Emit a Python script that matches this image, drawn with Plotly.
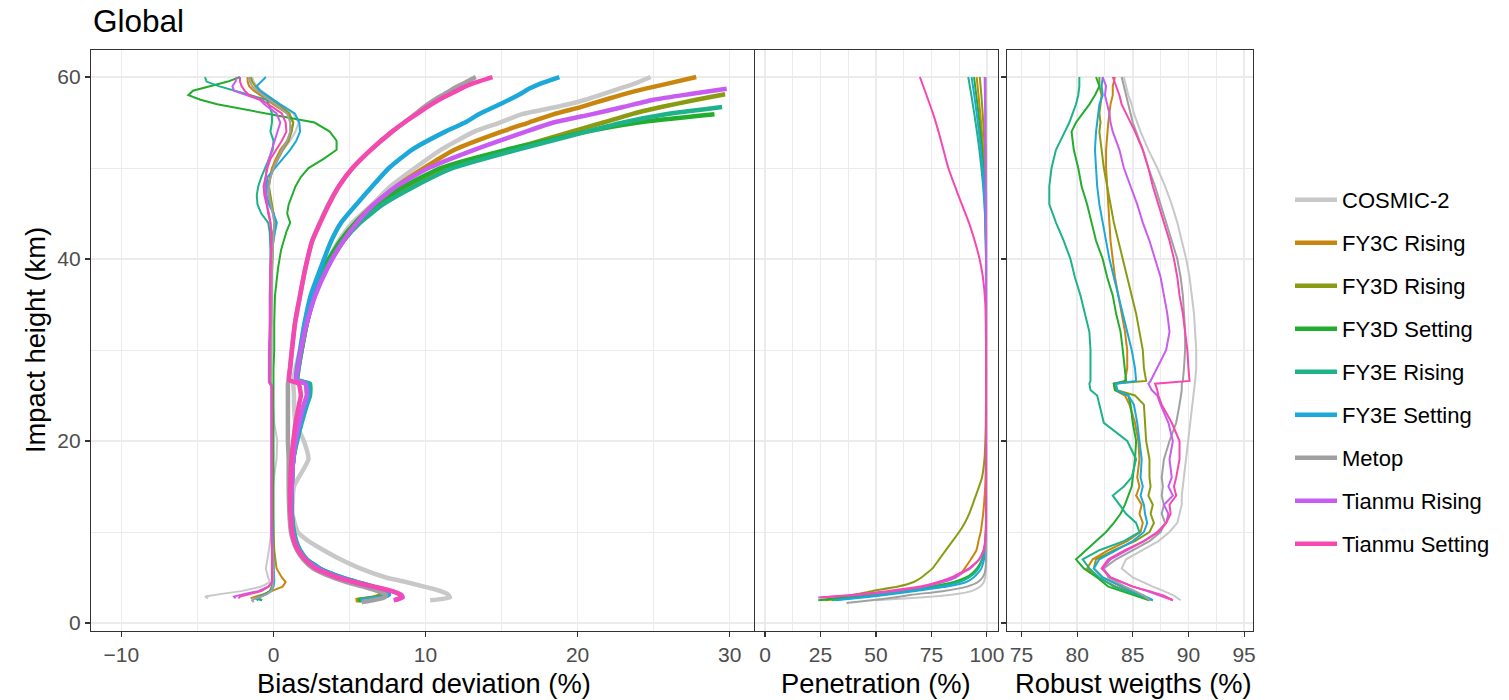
import plotly.graph_objects as go

# ---------------- data ----------------
SERIES = ["COSMIC-2", "FY3C Rising", "FY3D Rising", "FY3D Setting", "FY3E Rising",
          "FY3E Setting", "Metop", "Tianmu Rising", "Tianmu Setting"]
COLORS = ["#C8C8C8", "#C8860F", "#8A9B12", "#22AD2E", "#1DB28A",
          "#1DA8DA", "#A0A0A0", "#C95CF0", "#F548B0"]

# Panel 1 : bias (%) versus impact height (km)
H_BIAS = [2.3, 2.5, 2.7, 2.9, 3.2, 3.5, 4.0, 4.5, 5, 6,
          7, 8, 10, 12, 15, 18, 20, 22, 24, 26,
          26.5, 28, 30, 33, 36, 39, 41, 43, 44, 45,
          46, 47, 48, 49, 50, 51, 52, 53, 54, 55,
          56, 57, 57.5, 58, 58.5, 59, 59.5, 60]
BIAS_COSMIC2 = [None, None, -4.3, -4.5, -3.4, -2.1, -0.8, -0.25, -0.35, -0.5,
                -0.4, -0.3, -0.15, -0.1, -0.05, 0.2, 0.25, 0.05, -0.05, -0.1,
                -0.15, -0.15, -0.1, -0.1, -0.1, -0.1, -0.05, 0.0, 0.05, 0.0,
                -0.15, -0.25, -0.3, -0.2, 0.0, 0.3, 0.65, 1.1, 1.45, 1.65,
                1.3, 0.4, 0.0, -0.4, -0.8, -1.1, -1.3, -1.4]
BIAS_FY3C_R = [None, None, -1.5, -1.2, -0.6, -0.1, 0.6, 0.8, 0.55, 0.2,
               0.1, 0.05, 0.0, -0.05, -0.1, -0.1, -0.1, -0.1, -0.1, -0.1,
               -0.25, -0.2, -0.2, -0.15, -0.15, -0.1, -0.1, 0.0, 0.1, 0.0,
               -0.2, -0.3, -0.35, -0.25, -0.1, 0.15, 0.45, 0.9, 1.15, 1.3,
               0.9, 0.0, -0.45, -0.9, -1.3, -1.6, -1.7, -1.7]
BIAS_FY3D_R = [None, -1.0, -1.1, -0.9, -0.5, -0.2, -0.1, 0.0, 0.0, -0.05,
               -0.05, -0.05, -0.1, -0.1, -0.1, -0.1, -0.1, -0.1, -0.1, -0.1,
               -0.2, -0.2, -0.2, -0.2, -0.15, -0.1, -0.05, 0.0, 0.1, 0.0,
               -0.15, -0.25, -0.3, -0.2, 0.0, 0.3, 0.6, 1.0, 1.2, 1.3,
               1.05, 0.3, -0.1, -0.5, -0.9, -1.2, -1.4, -1.5]
BIAS_FY3D_S = [None, -0.75, -1.0, -0.9, -0.5, -0.25, -0.1, -0.05, 0.0, 0.0,
               0.0, 0.0, 0.0, 0.0, 0.0, 0.0, 0.0, 0.0, 0.0, 0.0,
               0.0, 0.0, 0.05, 0.05, 0.1, 0.3, 0.5, 0.85, 1.1, 0.9,
               1.0, 1.2, 1.45, 1.8, 2.3, 3.3, 4.15, 4.15, 3.7, 2.7,
               -0.4, -3.7, -4.8, -5.6, -5.3, -4.2, -3.0, -2.2]
BIAS_FY3E_R = [None, -0.8, -1.1, -0.85, -0.45, -0.2, -0.05, 0.0, 0.0, -0.05,
               -0.05, -0.05, -0.1, -0.1, -0.1, -0.1, -0.1, -0.1, -0.1, -0.1,
               -0.25, -0.25, -0.2, -0.2, -0.2, -0.2, -0.2, -0.25, -0.35, -0.8,
               -1.05, -1.1, -1.0, -0.8, -0.55, -0.3, -0.05, 0.0, -0.2, -0.1,
               -0.1, -0.3, -0.45, -1.5, -2.6, -3.6, -4.4, -4.5]
BIAS_FY3E_S = [None, -1.0, -1.2, -0.9, -0.45, -0.15, 0.0, 0.05, 0.05, 0.0,
               0.0, -0.05, -0.05, -0.1, -0.1, -0.1, -0.1, -0.1, -0.1, -0.1,
               -0.3, -0.3, -0.25, -0.2, -0.2, -0.15, -0.1, 0.1, 0.22, 0.0,
               -0.3, -0.45, -0.45, -0.4, 0.1, 0.65, 1.1, 1.5, 1.75, 1.7,
               1.4, 0.45, 0.0, -0.5, -0.9, -1.1, -0.8, -0.5]
BIAS_METOP = [-1.3, -1.4, -1.2, -0.8, -0.4, -0.15, -0.05, 0.0, 0.0, -0.05,
              -0.05, -0.05, -0.1, -0.1, -0.1, -0.1, -0.1, -0.1, -0.1, -0.1,
              -0.2, -0.15, -0.15, -0.15, -0.1, -0.1, -0.05, 0.0, 0.05, -0.05,
              -0.2, -0.3, -0.3, -0.2, 0.0, 0.25, 0.55, 0.9, 1.1, 1.1,
              0.9, 0.1, -0.3, -0.7, -1.1, -1.4, -1.55, -1.6]
BIAS_TIANMU_R = [None, None, -2.5, -2.6, -1.9, -1.0, -0.35, -0.1, -0.1, -0.1,
                 -0.1, -0.1, -0.15, -0.15, -0.15, -0.15, -0.15, -0.15, -0.15, -0.15,
                 -0.3, -0.3, -0.3, -0.25, -0.25, -0.2, -0.15, -0.15, -0.2, -0.35,
                 -0.45, -0.5, -0.55, -0.5, -0.45, -0.3, -0.1, 0.1, 0.25, 0.45,
                 0.2, -0.6, -0.9, -1.8, -2.6, -2.7, -2.5, -2.4]
BIAS_TIANMU_S = [None, None, -2.3, -2.2, -1.5, -0.8, -0.3, -0.1, -0.1, -0.1,
                 -0.1, -0.1, -0.1, -0.1, -0.1, -0.1, -0.1, -0.1, -0.1, -0.1,
                 -0.25, -0.25, -0.25, -0.2, -0.2, -0.2, -0.15, -0.15, -0.2, -0.3,
                 -0.45, -0.6, -0.65, -0.55, -0.4, -0.2, 0.2, 0.55, 0.85, 0.8,
                 0.55, -0.3, -0.8, -1.6, -1.9, -2.1, -2.2, -2.2]

# Panel 1 : standard deviation (%) versus impact height (km)
H_STD = [2.3, 2.5, 2.8, 3.1, 3.5, 4.0, 4.5, 5, 6, 7,
         8, 9, 10, 12, 15, 18, 20, 22, 24, 25,
         26.3, 26.7, 28, 30, 33, 36, 39, 42, 44, 46,
         48, 50, 52, 54, 55, 55.9, 56.7, 57.5, 58.1, 58.7,
         59.3, 60]
STD_COSMIC2 = [None, 10.3, 11.6, 11.5, 11.0, 9.9, 8.7, 7.4, 5.7, 4.4,
               3.3, 2.3, 1.6, 1.25, 1.35, 2.3, 2.0, 1.45, 1.35, 1.35,
               1.3, 1.3, 1.45, 1.75, 2.05, 2.55, 3.3, 4.3, 5.2, 6.5,
               7.7, 9.3, 11.0, 13.2, 14.9, 16.3, 18.6, 20.5, 21.6, 22.7,
               23.8, 24.8]
STD_FY3C_R = [None, 5.4, 6.6, 7.1, 6.9, 6.1, 5.1, 4.2, 2.9, 2.1,
              1.65, 1.4, 1.25, 1.15, 1.2, 1.3, 1.45, 1.7, 2.0, 2.2,
              2.1, 1.5, 1.6, 1.85, 2.2, 2.7, 3.5, 4.5, 5.4, 6.6,
              8.1, 9.9, 11.9, 15.0, 16.8, 18.4, 20.2, 21.8, 23.0, 24.4,
              26.0, 27.8]
STD_FY3D_R = [None, 5.5, 6.8, 7.3, 7.1, 6.3, 5.3, 4.4, 3.0, 2.15,
              1.7, 1.45, 1.3, 1.2, 1.2, 1.3, 1.5, 1.75, 2.05, 2.3,
              2.2, 1.55, 1.65, 1.85, 2.2, 2.7, 3.45, 4.6, 5.6, 7.0,
              9.0, 11.5, 15.5, 19.6, 21.7, 23.5, 25.5, 27.8, 29.7, None,
              None, None]
STD_FY3D_S = [None, 5.6, 6.9, 7.4, 7.2, 6.4, 5.4, 4.4, 3.0, 2.15,
              1.7, 1.45, 1.3, 1.2, 1.2, 1.3, 1.5, 1.8, 2.15, 2.35,
              2.3, 1.55, 1.6, 1.8, 2.1, 2.6, 3.3, 4.4, 5.4, 6.7,
              8.6, 11.0, 15.3, 20.6, 24.0, 29.0, None, None, None, None,
              None, None]
STD_FY3E_R = [None, 5.7, 7.0, 7.5, 7.3, 6.5, 5.5, 4.5, 3.05, 2.2,
              1.75, 1.5, 1.35, 1.2, 1.2, 1.3, 1.55, 1.85, 2.2, 2.4,
              2.4, 1.6, 1.65, 1.85, 2.2, 2.7, 3.45, 4.6, 5.7, 7.2,
              9.3, 11.8, 16.0, 20.6, 23.0, 25.8, 29.5, None, None, None,
              None, None]
STD_FY3E_S = [None, 5.8, 7.1, 7.6, 7.4, 6.6, 5.5, 4.5, 3.0, 2.15,
              1.7, 1.45, 1.3, 1.2, 1.2, 1.3, 1.5, 1.8, 2.15, 2.3,
              2.2, 1.5, 1.55, 1.75, 2.05, 2.45, 3.1, 3.8, 4.45, 5.45,
              6.5, 7.6, 9.1, 11.3, 12.6, 13.5, 14.5, 15.5, 16.2, 16.8,
              17.6, 18.8]
STD_METOP = [5.8, 6.5, 7.3, 7.4, 6.9, 5.9, 4.8, 3.9, 2.6, 1.95,
             1.55, 1.3, 1.15, 1.05, 1.0, 1.0, 0.95, 0.95, 0.95, 0.95,
             0.95, 1.0, 1.08, 1.2, 1.42, 1.75, 2.1, 2.55, 3.05, 3.6,
             4.3, 5.2, 6.4, 7.8, 8.6, 9.3, 9.9, 10.6, 11.2, 11.8,
             12.5, 13.3]
STD_TIANMU_R = [None, 7.9, 8.5, 8.4, 7.8, 6.5, 5.3, 4.3, 2.9, 2.1,
                1.65, 1.4, 1.25, 1.15, 1.2, 1.3, 1.45, 1.7, 2.0, 2.2,
                2.1, 1.5, 1.6, 1.8, 2.2, 2.75, 3.55, 4.6, 5.5, 6.6,
                8.1, 10.2, 13.2, 16.6, 18.4, 20.9, 23.0, 25.0, 27.3, 29.8,
                None, None]
STD_TIANMU_S = [None, 8.0, 8.4, 8.3, 7.8, 6.6, 5.3, 4.2, 2.75, 2.05,
                1.6, 1.35, 1.22, 1.12, 1.1, 1.18, 1.3, 1.45, 1.68, 1.8,
                1.65, 1.02, 1.1, 1.22, 1.42, 1.75, 2.1, 2.55, 3.08, 3.65,
                4.3, 5.2, 6.4, 7.8, 8.6, 9.4, 10.1, 10.9, 11.6, 12.3,
                13.1, 14.4]

# Panel 2 : penetration (%) versus impact height (km)
H_PEN = [2.2, 2.5, 2.8, 3.1, 3.5, 4.0, 4.5, 5, 5.5, 6,
         7, 8, 9, 10, 11, 12, 14, 16, 18, 20,
         22, 25, 30, 35, 38, 40, 42, 44, 46, 48,
         50, 52, 54, 56, 58, 60]
PEN_COSMIC2 = [None, 50, 70, 84, 93, 97, 98.6, 99.2, 99.5, 99.6,
               99.7, 99.7, 99.7, 99.7, 99.7, 99.7, 99.7, 99.7, 99.7, 99.7,
               99.7, 99.7, 99.7, 99.7, 99.7, 99.7, 99.7, 99.7, 99.7, 99.7,
               99.7, 99.7, 99.7, 99.7, 99.6, 99.6]
PEN_FY3C_R = [None, 27, 40, 50, 61, 72, 80, 85, 88.5, 90,
              92.8, 95.3, 96.2, 97.2, 97.8, 98.3, 99.0, 99.4, 99.5, 99.6,
              99.6, 99.6, 99.6, 99.6, 99.6, 99.6, 99.6, 99.5, 99.4, 99.2,
              98.8, 98.3, 97.7, 97.0, 96.2, 95.4]
PEN_FY3D_R = [None, 25, 34, 40, 48, 60, 67, 70.5, 73, 75.5,
              78.5, 81.5, 84.5, 87.5, 90, 92, 95, 97.8, 98.9, 99.3,
              99.5, 99.6, 99.6, 99.6, 99.6, 99.6, 99.6, 99.6, 99.5, 99.5,
              99.3, 99.0, 98.6, 98.1, 97.5, 96.8]
PEN_FY3D_S = [None, 24, 36, 48, 60, 75, 85, 90.5, 93.5, 95.5,
              97.8, 98.9, 99.3, 99.5, 99.6, 99.6, 99.6, 99.6, 99.6, 99.6,
              99.6, 99.6, 99.6, 99.6, 99.6, 99.6, 99.5, 99.4, 99.2, 98.9,
              98.4, 97.8, 97.1, 96.2, 95.2, 94.2]
PEN_FY3E_R = [None, 30, 42, 52, 64, 78, 87.7, 92, 94.5, 96.2,
              98, 99, 99.4, 99.5, 99.6, 99.6, 99.6, 99.6, 99.6, 99.6,
              99.6, 99.6, 99.6, 99.6, 99.6, 99.6, 99.5, 99.3, 98.9, 98.3,
              97.5, 96.6, 95.5, 94.3, 93.0, 91.6]
PEN_FY3E_S = [None, 32, 44, 55, 67, 82, 90.7, 94, 96, 97.5,
              98.7, 99.3, 99.5, 99.6, 99.6, 99.6, 99.6, 99.6, 99.6, 99.6,
              99.6, 99.6, 99.6, 99.6, 99.6, 99.6, 99.5, 99.3, 99.0, 98.6,
              98.0, 97.3, 96.4, 95.4, 94.3, 93.1]
PEN_METOP = [36.7, 48, 58, 66, 80, 91, 96, 98, 99, 99.4,
             99.6, 99.7, 99.7, 99.7, 99.7, 99.7, 99.7, 99.7, 99.7, 99.7,
             99.7, 99.7, 99.7, 99.7, 99.7, 99.7, 99.7, 99.7, 99.7, 99.6,
             99.6, 99.6, 99.5, 99.5, 99.4, 99.4]
PEN_TIANMU_R = [None, None, 24, 43, 58, 72, 80, 86, 89, 92.5,
                96.5, 98.5, 99.3, 99.6, 99.6, 99.6, 99.6, 99.6, 99.6, 99.6,
                99.6, 99.6, 99.6, 99.6, 99.6, 99.6, 99.6, 99.5, 99.5, 99.4,
                99.4, 99.3, 99.2, 99.2, 99.1, 99.0]
PEN_TIANMU_S = [None, None, 25, 40, 55, 70, 78, 84, 88, 92,
                96.5, 98.5, 99.2, 99.5, 99.6, 99.6, 99.6, 99.6, 99.6, 99.6,
                99.6, 99.6, 99.6, 99.3, 98.2, 96.7, 94.5, 91.9, 88.7, 85.6,
                82.6, 80.4, 78.2, 75.7, 72.8, 69.8]

# Panel 3 : robust weights (%) versus impact height (km)
H_RW = [2.5, 3, 3.5, 4, 5, 6, 7, 8, 9, 10,
        11, 12, 13, 14, 15, 16, 18, 20, 22, 24,
        25, 25.6, 26.3, 26.6, 28, 30, 32, 34, 36, 38,
        40, 42, 44, 46, 48, 50, 52, 54, 55, 56,
        57, 58, 59, 60]
RW_COSMIC2 = [89.3, 88.7, 87.8, 86.8, 85.0, 84.0, 84.4, 85.8, 87.3, 88.3,
              89.0, 89.2, 89.4, 89.4, 89.5, 89.6, 89.8, 90.0, 90.2, 90.4,
              90.5, 90.5, 90.6, 90.6, 90.7, 90.7, 90.6, 90.5, 90.3, 90.1,
              89.8, 89.4, 89.0, 88.5, 87.9, 87.2, 86.4, 85.7, 85.4, 85.1,
              84.9, 84.6, 84.4, 84.2]
RW_FY3C_R = [86.5, 85.6, 84.6, 83.5, 81.8, 80.9, 81.4, 82.8, 84.5, 85.7,
             85.9, 85.6, 85.8, 85.3, 85.6, 85.4, 85.6, 85.5, 85.2, 84.7,
             84.3, 83.4, 83.3, 84.3, 84.5, 84.5, 84.3, 84.0, 83.7, 83.4,
             83.2, 83.0, 82.9, 82.8, 82.7, 82.6, 82.6, 82.7, 82.8, 82.9,
             83.0, 83.2, 83.2, 83.4]
RW_FY3D_R = [86.5, 85.8, 84.9, 84.0, 82.3, 81.5, 81.7, 83.3, 85.2, 86.5,
             86.9, 86.6, 86.8, 86.4, 86.6, 86.5, 86.5, 86.2, 86.1, 86.0,
             85.2, 83.5, 83.3, 86.2, 86.0, 85.9, 85.6, 85.3, 84.9, 84.5,
             84.1, 83.7, 83.3, 83.0, 82.7, 82.4, 82.2, 82.0, 82.1, 82.0,
             82.1, 82.2, 82.0, 82.0]
RW_FY3D_S = [86.5, 85.3, 84.0, 82.8, 81.8, 80.6, 79.9, 80.8, 81.6, 82.6,
             83.3, 83.9, 84.3, 84.6, 84.9, 85.0, 85.2, 85.3, 85.0, 84.8,
             84.6, 83.4, 83.3, 84.4, 84.3, 84.1, 83.9, 83.5, 83.2, 82.7,
             82.3, 81.7, 81.3, 80.9, 80.4, 80.1, 79.7, 79.5, 79.9, 80.5,
             81.1, 81.6, 82.0, 81.7]
RW_FY3E_R = [86.8, 85.6, 84.5, 83.3, 82.0, 81.1, 80.5, 82.0, 84.2, 85.6,
             85.3, 84.4, 83.8, 83.2, 84.2, 84.9, 85.3, 84.5, 82.4, 82.0,
             81.8, 81.2, 81.1, 81.2, 81.2, 81.2, 81.1, 80.7, 80.3, 79.8,
             79.4, 78.8, 78.1, 77.5, 77.5, 77.7, 78.1, 78.9, 79.3, 79.6,
             79.9, 80.1, 80.2, 80.2]
RW_FY3E_S = [86.8, 86.0, 85.0, 84.0, 82.3, 81.5, 82.0, 83.5, 85.0, 86.0,
             86.3, 86.1, 86.0, 85.7, 85.9, 85.7, 85.8, 85.6, 85.4, 85.1,
             84.6, 83.6, 83.5, 85.3, 85.2, 84.9, 84.5, 84.1, 83.7, 83.3,
             82.9, 82.6, 82.3, 82.0, 81.8, 81.7, 81.6, 81.7, 81.8, 81.9,
             82.0, 82.3, 82.2, 82.3]
RW_METOP = [86.5, 86.0, 85.2, 84.3, 82.8, 82.4, 83.5, 85.0, 86.5, 87.5,
            87.9, 87.6, 87.8, 87.6, 87.7, 87.6, 87.8, 88.3, 88.9, 89.2,
            89.3, 89.4, 89.4, 89.5, 89.6, 89.7, 89.7, 89.6, 89.5, 89.3,
            89.0, 88.5, 88.0, 87.5, 87.0, 86.4, 85.9, 85.3, 85.0, 84.8,
            84.6, 84.4, 84.2, 84.0]
RW_TIANMU_R = [88.6, 87.5, 86.3, 85.0, 83.0, 82.3, 83.0, 84.5, 86.0, 87.2,
               88.0, 88.2, 87.8, 88.6, 88.2, 88.5, 88.3, 88.6, 88.2, 87.5,
               87.2, 86.7, 86.4, 86.6, 87.2, 88.0, 88.3, 88.1, 87.8, 87.5,
               87.0, 86.5, 85.9, 85.4, 84.8, 84.2, 83.8, 83.2, 83.0, 82.9,
               82.7, 82.5, 82.6, 82.3]
RW_TIANMU_S = [88.6, 87.8, 86.5, 85.0, 83.0, 82.2, 82.8, 84.3, 86.0, 87.3,
               88.0, 88.4, 88.3, 88.9, 88.7, 88.9, 89.2, 89.2, 88.5, 87.6,
               87.3, 87.2, 87.0, 90.1, 90.0, 89.9, 89.7, 89.5, 89.2, 89.0,
               88.7, 88.3, 87.8, 87.3, 86.8, 86.4, 85.9, 85.2, 84.8, 84.4,
               84.0, 83.8, 83.5, 83.2]

BIAS = [BIAS_COSMIC2, BIAS_FY3C_R, BIAS_FY3D_R, BIAS_FY3D_S, BIAS_FY3E_R,
        BIAS_FY3E_S, BIAS_METOP, BIAS_TIANMU_R, BIAS_TIANMU_S]
STD = [STD_COSMIC2, STD_FY3C_R, STD_FY3D_R, STD_FY3D_S, STD_FY3E_R,
       STD_FY3E_S, STD_METOP, STD_TIANMU_R, STD_TIANMU_S]
PEN = [PEN_COSMIC2, PEN_FY3C_R, PEN_FY3D_R, PEN_FY3D_S, PEN_FY3E_R,
       PEN_FY3E_S, PEN_METOP, PEN_TIANMU_R, PEN_TIANMU_S]
RW = [RW_COSMIC2, RW_FY3C_R, RW_FY3D_R, RW_FY3D_S, RW_FY3E_R,
      RW_FY3E_S, RW_METOP, RW_TIANMU_R, RW_TIANMU_S]

# ---------------- figure ----------------
W, H = 1509, 700
FONT = "Liberation Sans, Arial, Helvetica, sans-serif"
GRID = "#EBEBEB"
BORDER = "#333333"
TICKCOL = "#4D4D4D"

fig = go.Figure()

for i, name in enumerate(SERIES):
    fig.add_trace(go.Scatter(x=BIAS[i], y=H_BIAS, mode="lines", name=name,
                             line=dict(color=COLORS[i], width=2),
                             legendgroup=name, showlegend=False,
                             xaxis="x", yaxis="y", hoverinfo="skip"))
for i, name in enumerate(SERIES):
    fig.add_trace(go.Scatter(x=STD[i], y=H_STD, mode="lines", name=name,
                             line=dict(color=COLORS[i], width=4.5,
                                       shape="spline", smoothing=0.5),
                             legendgroup=name, showlegend=True,
                             xaxis="x", yaxis="y", hoverinfo="skip"))
for i, name in enumerate(SERIES):
    fig.add_trace(go.Scatter(x=PEN[i], y=H_PEN, mode="lines", name=name,
                             line=dict(color=COLORS[i], width=2,
                                       shape="spline", smoothing=0.5),
                             legendgroup=name, showlegend=False,
                             xaxis="x2", yaxis="y2", hoverinfo="skip"))
for i, name in enumerate(SERIES):
    fig.add_trace(go.Scatter(x=RW[i], y=H_RW, mode="lines", name=name,
                             line=dict(color=COLORS[i], width=2),
                             legendgroup=name, showlegend=False,
                             xaxis="x3", yaxis="y3", hoverinfo="skip"))


def px_x(p):
    return p / W


def px_y(p):
    return 1 - p / H


YDOM = [px_y(631), px_y(50)]
YRANGE = [-0.88, 62.97]


def xax(dom, rng, tick0, dtick, mdtick, anchor):
    return dict(domain=dom, range=rng, anchor=anchor,
                tickmode="linear", tick0=tick0, dtick=dtick,
                ticks="outside", ticklen=5, tickwidth=1.1, tickcolor=BORDER,
                tickfont=dict(family=FONT, size=21, color=TICKCOL),
                showgrid=True, gridcolor=GRID, gridwidth=1.6,
                minor=dict(tickmode="linear", tick0=tick0, dtick=mdtick,
                           showgrid=True, gridcolor=GRID, gridwidth=1.0),
                showline=True, mirror=True, linecolor=BORDER, linewidth=1.1,
                zeroline=False, automargin=False, fixedrange=True)


def yax(anchor, labels, ticks, match=None):
    d = dict(domain=YDOM, range=YRANGE, anchor=anchor,
             tickmode="linear", tick0=0, dtick=20,
             ticks=ticks, ticklen=5, tickwidth=1.1, tickcolor=BORDER,
             showticklabels=labels,
             tickfont=dict(family=FONT, size=21, color=TICKCOL),
             showgrid=True, gridcolor=GRID, gridwidth=1.6,
             minor=dict(tickmode="linear", tick0=0, dtick=10,
                        showgrid=True, gridcolor=GRID, gridwidth=1.0),
             showline=True, mirror=True, linecolor=BORDER, linewidth=1.1,
             zeroline=False, automargin=False, fixedrange=True)
    if match:
        d["matches"] = match
    return d


fig.update_layout(
    width=W, height=H,
    margin=dict(l=0, r=0, t=0, b=0),
    paper_bgcolor="white", plot_bgcolor="white",
    font=dict(family=FONT, color="black"),
    xaxis=xax([px_x(91), px_x(754)], [-12, 31.6], 0, 10, 5, "y"),
    xaxis2=xax([px_x(755), px_x(998)], [-4.5, 105], 0, 25, 12.5, "y2"),
    xaxis3=xax([px_x(1007), px_x(1253)], [73.7, 95.8], 75, 5, 2.5, "y3"),
    yaxis=yax("x", True, "outside"),
    yaxis2=yax("x2", False, "", "y"),
    yaxis3=yax("x3", False, "outside", "y"),
    showlegend=True,
    legend=dict(x=px_x(1290), y=px_y(372), xanchor="left", yanchor="middle",
                font=dict(family=FONT, size=22, color="black"),
                bgcolor="rgba(0,0,0,0)", borderwidth=0,
                tracegroupgap=11.4, itemwidth=42, traceorder="grouped"),
    annotations=[
        dict(text="Global", x=px_x(91), y=px_y(21), xref="paper", yref="paper",
             xanchor="left", yanchor="middle", showarrow=False,
             font=dict(family=FONT, size=31.5, color="black")),
        dict(text="Bias/standard deviation (%)", x=px_x(424), y=px_y(683),
             xref="paper", yref="paper", xanchor="center", yanchor="middle",
             showarrow=False, font=dict(family=FONT, size=27.3, color="black")),
        dict(text="Penetration (%)", x=px_x(876), y=px_y(683),
             xref="paper", yref="paper", xanchor="center", yanchor="middle",
             showarrow=False, font=dict(family=FONT, size=27.3, color="black")),
        dict(text="Robust weigths (%)", x=px_x(1133), y=px_y(683),
             xref="paper", yref="paper", xanchor="center", yanchor="middle",
             showarrow=False, font=dict(family=FONT, size=27.3, color="black")),
        dict(text="Impact height (km)", x=px_x(35), y=px_y(340),
             xref="paper", yref="paper", xanchor="center", yanchor="middle",
             textangle=-90, showarrow=False,
             font=dict(family=FONT, size=27.3, color="black")),
    ],
)

# remove the page's default body margin so the figure fills the window
fig.write_html("out.html",
               config={"displayModeBar": False, "staticPlot": True},
               post_script="document.body.style.margin='0px';"
                           "document.body.style.padding='0px';")
